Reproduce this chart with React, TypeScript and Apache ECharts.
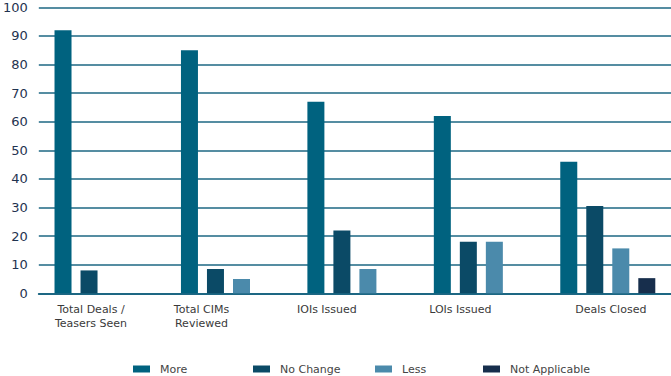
import React, { useEffect, useRef } from "react";
import * as echarts from "echarts";

const categories = [
  "Total Deals /\nTeasers Seen",
  "Total CIMs\nReviewed",
  "IOIs Issued",
  "LOIs Issued",
  "Deals Closed",
];
const seriesNames = ["More", "No Change", "Less", "Not Applicable"];
const moreValues = [92, 85, 67, 62, 46];
const noChangeValues = [8, 8.5, 22, 18, 30.5];
const lessValues = [0, 5, 8.5, 18, 15.7];
const notApplicableValues = [0, 0, 0, 0, 5.3];
const yTicks = [0, 10, 20, 30, 40, 50, 60, 70, 80, 90, 100];

const colors = ["#00627f", "#0b4a66", "#4b8aab", "#172e4c"];
const labelShift = [-11, -27, -28, -21, 3];
const legendLefts = [133, 253, 375, 483];

export default function App() {
  const ref = useRef<HTMLDivElement>(null);
  useEffect(() => {
    if (!ref.current) return;
    document.body.style.margin = "0";
    document.body.style.overflow = "hidden";
    const chart = echarts.init(ref.current, null, { renderer: "svg" });
    const values = [moreValues, noChangeValues, lessValues, notApplicableValues];
    const font = "'DejaVu Sans', sans-serif";
    chart.setOption({
      animation: false,
      color: colors,
      grid: { left: 37, right: 0, top: 7.3, bottom: 82.7, containLabel: false },
      legend: seriesNames.map((n, i) => ({
        data: [n],
        left: legendLefts[i],
        top: 363.5,
        padding: 0,
        itemWidth: 17,
        itemHeight: 7,
        icon: "rect",
        selectedMode: false,
        textStyle: {
          fontFamily: font,
          fontSize: 11,
          color: "#444444",
          padding: [0, 0, 0, 5],
        },
      })),
      xAxis: {
        type: "category",
        data: categories.map((c, i) => ({
          value: c,
          textStyle: {
            padding:
              labelShift[i] < 0
                ? [0, -2 * labelShift[i], 0, 0]
                : [0, 0, 0, 2 * labelShift[i]],
          },
        })),
        axisTick: { show: false },
        axisLine: { show: true, lineStyle: { color: "#1d6783", width: 2 } },
        axisLabel: {
          interval: 0,
          fontFamily: font,
          fontSize: 11,
          color: "#3a3a3a",
          lineHeight: 14,
          margin: 9,
        },
      },
      yAxis: {
        type: "value",
        min: yTicks[0],
        max: yTicks[yTicks.length - 1],
        interval: 10,
        axisLine: { show: false },
        axisTick: { show: false },
        splitLine: { lineStyle: { color: "#1d6783", width: 1.6 } },
        axisLabel: {
          fontFamily: font,
          fontSize: 13,
          color: "#1f3350",
          margin: 11,
        },
      },
      series: seriesNames.map((n, i) => ({
        name: n,
        type: "bar",
        data: values[i],
        barWidth: 17,
        barGap: "53%",
        itemStyle: { color: colors[i] },
      })),
    });
    return () => chart.dispose();
  }, []);
  return (
    <div
      ref={ref}
      style={{ position: "absolute", left: 0, top: 0, width: 671, height: 376 }}
    />
  );
}
